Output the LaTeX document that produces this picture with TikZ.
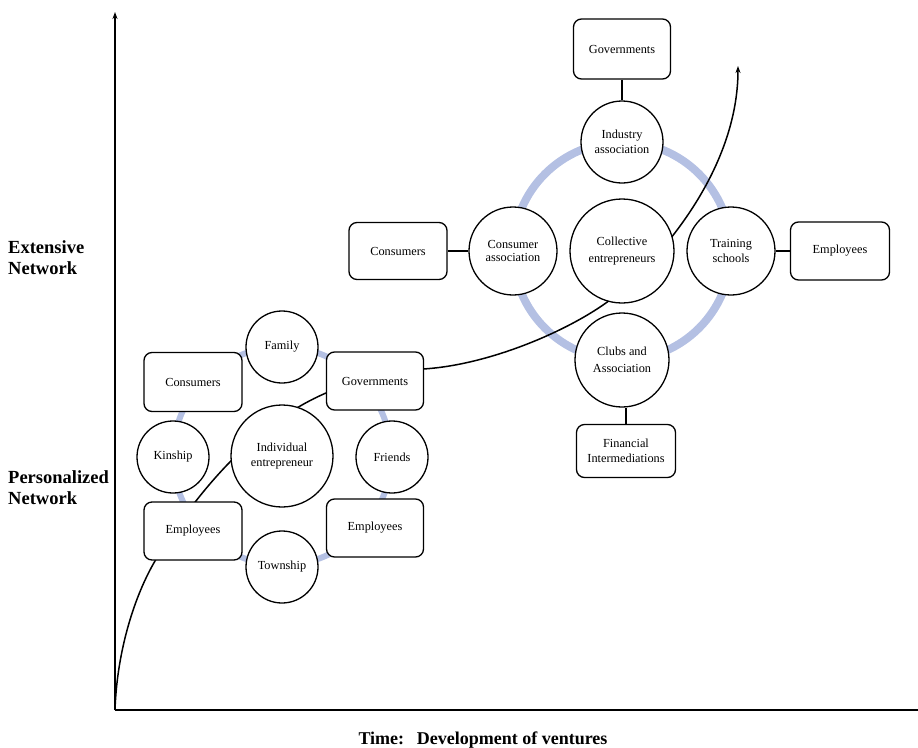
\documentclass[tikz,border=0pt]{standalone}
\usepackage{fontspec}
\setmainfont{Liberation Serif}
\usetikzlibrary{arrows.meta,backgrounds}
\definecolor{ringblue}{RGB}{180,192,227}
\begin{document}
\begin{tikzpicture}[x=1pt,y=-1pt,
  box/.style={draw, line width=1.3pt, rounded corners=8pt, fill=white, minimum width=97pt, minimum height=58pt, align=center, font=\fontsize{12.3}{15}\selectfont, inner sep=2pt},
  circ/.style={draw, circle, line width=1.3pt, fill=white, align=center, font=\fontsize{12.3}{15}\selectfont, inner sep=0pt},
  ringL/.style={draw=ringblue, line width=6pt},
  ringR/.style={draw=ringblue, line width=8pt},
  link/.style={line width=1.3pt},
  axisline/.style={line width=1.8pt},
  axislabel/.style={font=\bfseries\fontsize{18.5}{21}\selectfont, align=left, anchor=north west, inner sep=0pt},
  tip/.style={-{Stealth[length=7pt,width=5pt]}}]
\useasboundingbox (0,0) rectangle (918,747);

% axes
\coordinate (O) at (115,710);
\coordinate (Ytop) at (115,12);
\coordinate (Xend) at (918,710);
\draw[axisline,tip] (O) -- (Ytop);
\draw[axisline] (O) -- (Xend);

% axis labels
\node[axislabel] (ext) at (8,240) {Extensive\\Network};
\node[axislabel] (pers) at (8,470) {Personalized\\Network};
\node[font=\bfseries\fontsize{18}{21}\selectfont, anchor=base, inner sep=0pt] (time) at (483,744) {Time:\hspace{0.7em}Development of ventures};

% left cluster
\node[circ, minimum size=102pt] (ie) at (282,456) {Individual\\entrepreneur};
\node[circ, minimum size=72pt] (family) at (282,347) {Family};
\node[circ, minimum size=72pt] (kinship) at (173,457) {Kinship};
\node[circ, minimum size=72pt] (friends) at (392,457) {Friends};
\node[circ, minimum size=72pt] (township) at (282,567) {Township};
\node[box, minimum width=98pt, minimum height=59pt] (consL) at (193,382) {Consumers};
\node[box] (govL) at (375,381) {Governments};
\node[box, minimum width=98pt] (empL) at (193,531) {Employees};
\node[box] (empR) at (375,528) {Employees};

% right cluster
\node[circ, minimum size=104pt, font=\fontsize{12.3}{17}\selectfont] (coll) at (622,251) {Collective\\entrepreneurs};
\node[circ, minimum size=82pt] (ind) at (622,142) {Industry\\association};
\node[circ, minimum size=88pt, font=\fontsize{12.3}{13.5}\selectfont] (cassoc) at (513,251) {Consumer\\association};
\node[circ, minimum size=88pt] (train) at (731,251) {Training\\schools};
\node[circ, minimum size=94pt, font=\fontsize{12.3}{17}\selectfont] (clubs) at (622,360) {Clubs and\\Association};
\node[box, minimum height=60pt] (govT) at (622,49) {Governments};
\node[box, minimum width=98pt, minimum height=57pt] (consR) at (398,251) {Consumers};
\node[box, minimum width=99pt] (empRR) at (840,251) {Employees};
\node[box, minimum width=99pt, minimum height=53pt] (fin) at (626,451) {Financial\\Intermediations};

% links
\draw[link] (govT.south) -- (ind.north);
\draw[link] (consR.east) -- (cassoc.west);
\draw[link] (train.east) -- (empRR.west);
\draw[link] (fin.north) -- (fin.north |- clubs.south);

\begin{scope}[on background layer]
  \draw[ringL] (ie.center) circle[radius=109pt];
  \draw[ringR] (coll.center) circle[radius=109pt];
  \coordinate (Ctip) at (738,66);
  \draw[line width=1.5pt, tip] (O)
    .. controls (117,650) and (135,595) .. (155,561)
    .. controls (180,519) and (240,430) .. (326,393)
    -- (423,369)
    .. controls (490,365) and (570,330) .. (610,300)
    .. controls (660,260) and (738,170) .. (Ctip);
\end{scope}
\end{tikzpicture}
\end{document}
